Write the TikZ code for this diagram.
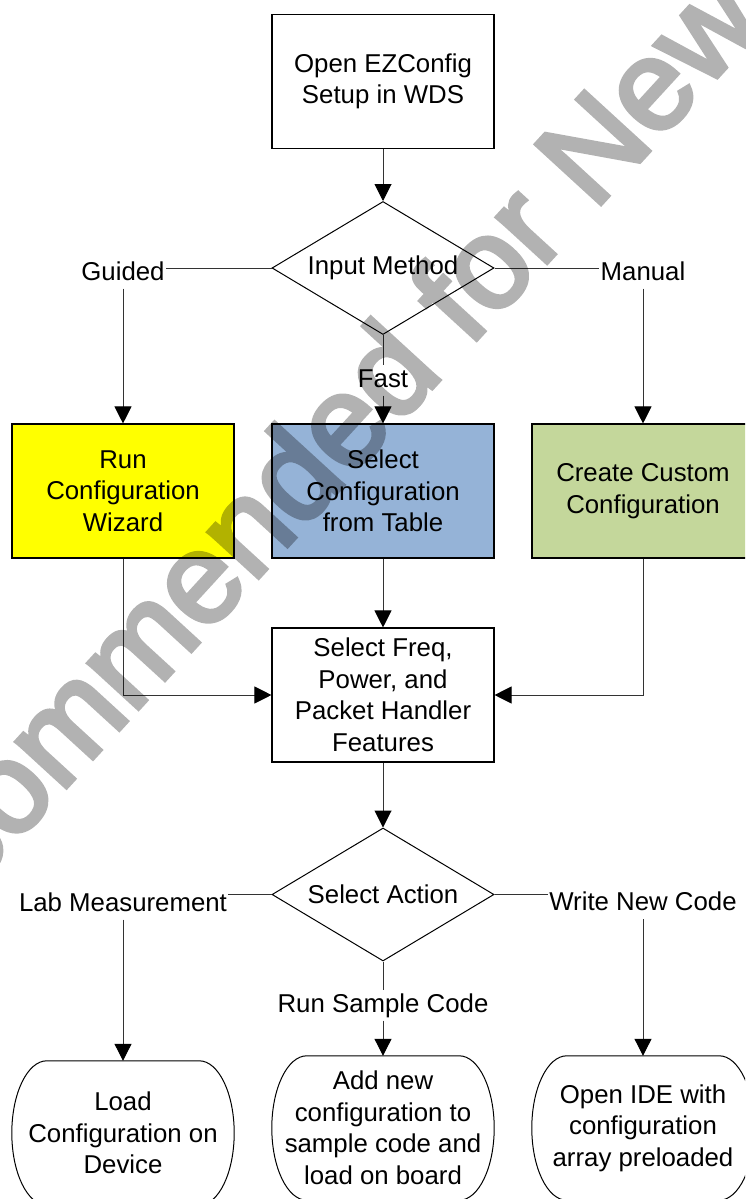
\documentclass[tikz,border=0pt]{standalone}
\usepackage{fontspec}
\setmainfont{Liberation Sans}
\newfontfamily\wmfont[FakeBold=3.5]{Liberation Sans}
\usetikzlibrary{shapes.geometric,arrows.meta,calc}
\definecolor{wizyellow}{HTML}{FFFF00}
\definecolor{tabblue}{HTML}{95B3D7}
\definecolor{custgreen}{HTML}{C4D79B}
\newcommand\termoutline[1]{%
  \draw[line width=1pt] ($(#1.north west)+(35,0)$) -- ($(#1.north east)+(-35,0)$)
    .. controls +(19.3,0) and +(0,-39.8) .. (#1.east)
    .. controls +(0,39.8) and +(19.3,0) .. ($(#1.south east)+(-35,0)$)
    -- ($(#1.south west)+(35,0)$)
    .. controls +(-19.3,0) and +(0,39.8) .. (#1.west)
    .. controls +(0,-39.8) and +(-19.3,0) .. ($(#1.north west)+(35,0)$) -- cycle;}
\begin{document}
\begin{tikzpicture}[x=1pt,y=-1pt,
  txt/.style={font=\fontsize{25.8pt}{31.5pt}\selectfont},
  box/.style={txt, align=center, draw=black, line width=1.1pt, rectangle,
    minimum width=222pt, minimum height=134pt, inner sep=0pt},
  dec/.style={txt, align=center, draw=black, line width=1pt, diamond, aspect=1.67,
    minimum width=222pt, minimum height=133pt, inner sep=0pt},
  lbl/.style={txt, inner xsep=1pt, inner ysep=3pt, text height=19pt, text depth=5.5pt},
  term/.style={txt, align=center, rectangle, minimum width=222pt,
    minimum height=144pt, inner sep=0pt},
  conn/.style={draw=black!80, line width=1pt},
  arr/.style={conn, -{Triangle[length=17pt,width=17pt,color=black]}}
]
\useasboundingbox (0,0) rectangle (745,1199);
\clip (0,0) rectangle (745,1199);

% nodes
\node[box] (open) at (383,81.5) {Open EZConfig\\Setup in WDS};
\node[dec] (inp) at (383,268) {Input Method};
\node[lbl] (guided) at (123,273.25) {Guided};
\node[lbl] (manual) at (643,273.25) {Manual};
\node[lbl] (fast) at (383,380.25) {Fast};
\node[box, fill=wizyellow] (wiz) at (123,491) {Run\\Configuration\\Wizard};
\node[box, fill=tabblue] (tab) at (383,491) {Select\\Configuration\\from Table};
\node[box, fill=custgreen] (cust) at (643,491) {Create Custom\\Configuration};
\node[box] (feat) at (383,695) {Select Freq,\\Power, and\\Packet Handler\\Features};
\node[dec] (act) at (383,894.5) {Select Action};
\node[lbl] (lab) at (123,904.25) {Lab Measurement};
\node[lbl] (write) at (643,904) {Write New Code};
\node[lbl] (run) at (383,1005.25) {Run Sample Code};
\node[term] (load) at (123,1133) {Load\\Configuration on\\Device};
\node[term] (add) at (383,1128) {Add new\\configuration to\\sample code and\\load on board};
\node[term] (ide) at (643,1128) {Open IDE with\\configuration\\array preloaded};
\termoutline{load}
\termoutline{add}
\termoutline{ide}

% connectors
\draw[arr] (open.south) -- (inp.north);
\draw[conn] (inp.west) -- (inp.west -| guided.east);
\draw[arr] (guided.south) -- (wiz.north);
\draw[conn] (inp.east) -- (inp.east -| manual.west);
\draw[arr] (manual.south) -- (cust.north);
\draw[conn] (inp.south) -- (fast.north);
\draw[arr] (fast.south) -- (tab.north);
\draw[arr] (tab.south) -- (feat.north);
\draw[arr] (wiz.south) |- (feat.west);
\draw[arr] (cust.south) |- (feat.east);
\draw[arr] (feat.south) -- (act.north);
\draw[conn] (act.west) -- (act.west -| lab.east);
\draw[arr] (lab.south) -- (load.north);
\draw[conn] (act.east) -- (act.east -| write.west);
\draw[arr] (write.south) -- (ide.north);
\draw[conn] (act.south) -- (run.north);
\draw[arr] (run.south) -- (add.north);

% watermark
\begin{scope}[transparency group, opacity=0.3]
\node[rotate=47.5, anchor=base west, inner sep=0pt, text=black,
  font=\wmfont\fontsize{128pt}{128pt}\selectfont] (wm) at (-300,1187)
  {Not Recommended for New Designs};
\end{scope}
\end{tikzpicture}
\end{document}
